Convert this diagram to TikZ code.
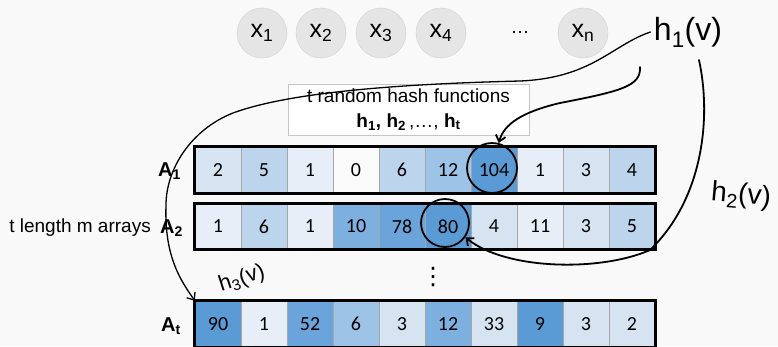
\documentclass[tikz,border=0pt]{standalone}
\usepackage{fontspec}
\setmainfont{Liberation Sans}
\newfontfamily\cellfont{Carlito}
\newfontfamily\symfont{DejaVu Sans}
\usetikzlibrary{arrows.meta,positioning,calc}
\definecolor{bgcol}{HTML}{F9F9F9}
\definecolor{c0}{HTML}{FAFAFA}
\definecolor{c1}{HTML}{E7EEF7}
\definecolor{c2}{HTML}{D6E3F1}
\definecolor{c3}{HTML}{BDD5EC}
\definecolor{c4}{HTML}{9DC3E6}
\definecolor{c5}{HTML}{7DAFDF}
\definecolor{c6}{HTML}{6AA4DB}
\definecolor{c7}{HTML}{5B9BD5}
\tikzset{
  cell/.style={rectangle, draw=gray!70, fill=#1, minimum width=46pt, minimum height=46pt,
               inner sep=0pt, font=\cellfont\fontsize{20}{20}\selectfont},
  cell/.default={c2},
  elem/.style={circle, draw=black!18, fill=black!10, minimum size=50pt, inner sep=0pt,
               font=\fontsize{25}{25}\selectfont},
  rowlab/.style={anchor=east, font=\bfseries\fontsize{20}{20}\selectfont, inner sep=0pt},
  hand/.style={black, line width=1.8pt, line cap=round},
  handthin/.style={black, line width=1.3pt, line cap=round},
  barb/.style={-{Straight Barb[length=6pt,width=10pt]}},
}

\begin{document}
\begin{tikzpicture}[x=1pt, y=-1pt]
\fill[bgcol] (0,0) rectangle (778,346);
\useasboundingbox (0,0) rectangle (778,346);
% input elements
\foreach \x/\lab in {262/1, 321/2, 381/3, 441/4} {
  \node[elem] (x\lab) at (\x,33) {x\textsubscript{\lab}};
}
\node[font=\fontsize{19}{19}\selectfont] (xdots) at (520,32) {\dots};
\node[elem] (xn) at (583,33) {x\textsubscript{n}};
% hash box
\node[draw=gray!45, fill=white, minimum width=241pt, minimum height=51pt, inner sep=0pt,
      align=center, font=\fontsize{19}{25}\selectfont] (hashbox) at (408.5,109.5)
  {t random hash functions\\ \textbf{h\textsubscript{1}, h\textsubscript{2}}\,,\dots, \textbf{h\textsubscript{t}}};
% arrays
\foreach \v/\c [count=\i] in {2/c2, 5/c3, 1/c1, 0/c0, 6/c3, 12/c4, 104/c7, 1/c1, 3/c2, 4/c3}
  \node[cell=\c] (a1-\i) at ({172+46*\i},170) {\v};
\foreach \v/\c [count=\i] in {1/c1, 6/c3, 1/c1, 10/c5, 78/c6, 80/c7, 4/c2, 11/c1, 3/c2, 5/c3}
  \node[cell=\c] (a2-\i) at ({172+46*\i},226.5) {\v};
\foreach \v/\c [count=\i] in {90/c7, 1/c1, 52/c6, 6/c4, 3/c2, 12/c5, 33/c2, 9/c7, 3/c2, 2/c2}
  \node[cell=\c] (a3-\i) at ({172+46*\i},324) {\v};
\foreach \r in {1,2,3}
  \draw[line width=3pt] (a\r-1.north west) rectangle (a\r-10.south east);
\node[rowlab] (lab1) at (181,171) {A\textsubscript{1}};
\node[rowlab] (lab2) at (183,228) {A\textsubscript{2}};
\node[rowlab] (lab3) at (181,326) {A\textsubscript{t}};
\node[anchor=east, inner sep=0pt, font=\fontsize{19}{19}\selectfont] (arrlab) at (151,228) {t length m arrays};
\node[font=\symfont\fontsize{24}{24}\selectfont, inner sep=0pt] (vdots) at (433,277) {⋮};
% handwritten notes
\node[font=\fontsize{32}{32}\selectfont] (h1) at (688,32) {h\textsubscript{1}(v)};
\node[font=\fontsize{28}{28}\selectfont, rotate=-5] (h2) at (741,196) {h\textsubscript{2}(v)};
\node[font=\fontsize{22}{22}\selectfont, rotate=18] (h3) at (242,279) {h\textsubscript{3}(v)};
\node[circle, hand, draw, minimum size=50pt, inner sep=0pt] (r1) at (492,168) {};
\node[circle, hand, draw, minimum size=48pt, inner sep=0pt] (r2) at (445,223) {};
\coordinate (s1) at (640,67);
\coordinate (s2) at (699,60);
\draw[handthin, barb] (h1.west) .. controls (612,45) and (592,78) .. (520,81)
  .. controls (400,84) and (290,92) .. (233,113)
  .. controls (190,130) and (166,170) .. (166,205)
  .. controls (164,258) and (182,282) .. (a3-1.north west);
\draw[hand, barb] (s1) .. controls (641,86) and (622,91) .. (560,103)
  .. controls (522,112) and (504,124) .. (r1.75);
\draw[hand, barb] (s2) .. controls (712,120) and (702,200) .. (650,250)
  .. controls (600,272) and (505,270) .. (r2.-35);
\end{tikzpicture}
\end{document}
